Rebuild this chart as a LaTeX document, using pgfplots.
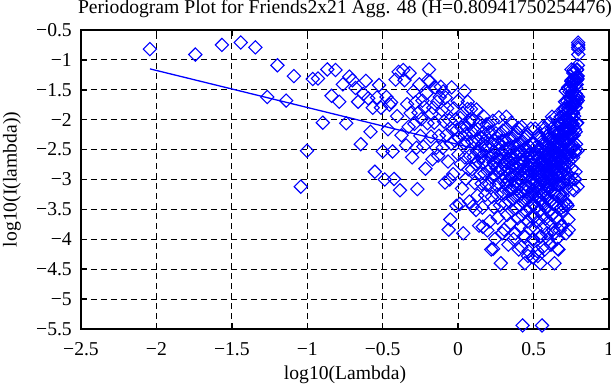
\documentclass[border=0pt]{standalone}
\usepackage{fontspec}
\setmainfont{Liberation Serif}
\usepackage{pgfplots}
\usepackage{pgfplotstable}
\pgfplotsset{compat=1.18}
\pgfplotstableread{
xl xr y
-2.043 0.7974 -0.82
-1.742 0.7967 -0.91
-1.566 0.7961 -0.75
-1.441 0.7955 -0.71
-1.344 0.7949 -0.79
-1.265 0.7942 -1.62
-1.198 0.7936 -1.09
-1.140 0.7930 -1.68
-1.089 0.7923 -1.27
-1.043 0.7917 -3.12
-1.002 0.7911 -2.52
-0.964 0.7904 -1.32
-0.929 0.7898 -1.31
-0.897 0.7891 -2.05
-0.867 0.7885 -1.16
-0.839 0.7879 -1.60
-0.813 0.7872 -1.17
-0.788 0.7866 -1.70
-0.764 0.7859 -1.41
-0.742 0.7853 -2.06
-0.721 0.7846 -1.28
-0.701 0.7840 -1.34
-0.681 0.7833 -1.47
-0.663 0.7827 -1.70
-0.645 0.7820 -2.41
-0.628 0.7814 -1.57
-0.612 0.7807 -1.35
-0.596 0.7801 -1.64
-0.581 0.7794 -2.20
-0.566 0.7788 -1.80
-0.552 0.7781 -2.87
-0.538 0.7775 -1.63
-0.524 0.7768 -1.42
-0.512 0.7762 -1.80
-0.499 0.7755 -2.53
-0.487 0.7748 -3.00
-0.475 0.7742 -1.62
-0.465 0.7735 -2.16
-0.455 0.7727 -1.75
-0.445 0.7720 -1.71
-0.435 0.7713 -2.53
-0.425 0.7706 -2.99
-0.415 0.7698 -1.33
-0.405 0.7691 -1.94
-0.395 0.7684 -1.20
-0.386 0.7677 -3.18
-0.375 0.7669 -2.26
-0.364 0.7661 -1.17
-0.355 0.7655 -1.34
-0.345 0.7647 -2.43
-0.338 0.7642 -1.74
-0.328 0.7635 -2.12
-0.322 0.7630 -1.22
-0.315 0.7625 -1.89
-0.305 0.7618 -2.63
-0.297 0.7612 -1.53
-0.290 0.7607 -2.07
-0.283 0.7602 -1.71
-0.276 0.7597 -2.47
-0.270 0.7591 -3.16
-0.263 0.7584 -1.88
-0.257 0.7578 -1.41
-0.250 0.7571 -2.27
-0.243 0.7564 -1.99
-0.237 0.7558 -1.68
-0.230 0.7551 -2.45
-0.223 0.7543 -1.79
-0.217 0.7537 -2.82
-0.210 0.7530 -1.56
-0.203 0.7523 -2.06
-0.200 0.7520 -1.34
-0.193 0.7511 -1.16
-0.187 0.7503 -1.36
-0.180 0.7494 -2.28
-0.175 0.7488 -1.90
-0.170 0.7482 -2.66
-0.165 0.7475 -1.80
-0.158 0.7466 -2.05
-0.152 0.7459 -1.46
-0.145 0.7450 -2.47
-0.138 0.7441 -1.70
-0.133 0.7434 -2.60
-0.127 0.7427 -2.27
-0.122 0.7420 -1.62
-0.115 0.7411 -1.45
-0.108 0.7402 -1.84
-0.102 0.7395 -2.47
-0.099 0.7390 -1.53
-0.093 0.7380 -2.03
-0.087 0.7370 -3.05
-0.083 0.7364 -1.63
-0.077 0.7354 -2.25
-0.073 0.7347 -1.81
-0.067 0.7337 -2.70
-0.063 0.7331 -3.84
-0.058 0.7322 -2.01
-0.055 0.7317 -3.00
-0.052 0.7312 -3.67
-0.047 0.7304 -2.40
-0.043 0.7297 -1.46
-0.037 0.7287 -2.17
-0.033 0.7281 -2.91
-0.028 0.7272 -1.81
-0.022 0.7262 -2.35
-0.018 0.7256 -2.00
-0.012 0.7246 -3.44
-0.008 0.7239 -2.17
-0.003 0.7231 -1.69
0.002 0.7222 -2.58
0.006 0.7214 -2.30
0.010 0.7206 -3.41
0.014 0.7198 -1.97
0.018 0.7190 -2.74
0.022 0.7182 -2.13
0.026 0.7173 -3.15
0.030 0.7165 -1.89
0.034 0.7157 -3.90
0.038 0.7149 -2.39
0.042 0.7141 -1.52
0.045 0.7135 -2.63
0.048 0.7129 -2.24
0.052 0.7120 -2.99
0.055 0.7113 -2.13
0.058 0.7106 -2.37
0.062 0.7097 -1.82
0.064 0.7092 -1.70
0.068 0.7083 -2.83
0.072 0.7074 -2.05
0.075 0.7067 -3.37
0.078 0.7060 -2.60
0.082 0.7050 -2.00
0.085 0.7043 -1.82
0.088 0.7036 -2.20
0.092 0.7027 -2.83
0.095 0.7020 -2.37
0.098 0.7013 -3.45
0.101 0.7005 -2.01
0.104 0.6997 -2.62
0.107 0.6989 -2.18
0.110 0.6981 -3.06
0.113 0.6973 -2.36
0.116 0.6964 -2.74
0.119 0.6956 -3.51
0.121 0.6951 -1.83
0.124 0.6943 -2.53
0.127 0.6935 -3.27
0.130 0.6926 -2.16
0.133 0.6918 -2.70
0.136 0.6910 -2.34
0.139 0.6902 -3.77
0.141 0.6896 -2.53
0.144 0.6888 -2.05
0.147 0.6880 -2.91
0.150 0.6872 -2.63
0.153 0.6863 -2.30
0.156 0.6853 -3.07
0.159 0.6844 -2.41
0.161 0.6838 -3.47
0.164 0.6828 -3.79
0.166 0.6822 -2.21
0.169 0.6813 -2.71
0.171 0.6806 -1.95
0.174 0.6797 -2.90
0.176 0.6791 -2.51
0.179 0.6782 -3.26
0.181 0.6775 -2.44
0.184 0.6766 -2.68
0.186 0.6760 -2.08
0.189 0.6750 -3.09
0.191 0.6744 -2.31
0.194 0.6735 -3.85
0.196 0.6728 -2.86
0.199 0.6719 -2.21
0.201 0.6712 -2.07
0.204 0.6701 -2.45
0.206 0.6694 -3.08
0.209 0.6683 -2.62
0.211 0.6676 -3.70
0.214 0.6665 -2.21
0.216 0.6657 -2.82
0.219 0.6646 -4.17
0.221 0.6639 -2.41
0.223 0.6632 -3.29
0.226 0.6621 -2.59
0.228 0.6614 -2.97
0.230 0.6606 -2.02
0.232 0.6599 -4.16
0.234 0.6592 -2.72
0.237 0.6581 -3.46
0.239 0.6573 -2.35
0.241 0.6566 -2.92
0.243 0.6559 -2.56
0.246 0.6548 -3.99
0.248 0.6540 -2.71
0.250 0.6533 -2.23
0.252 0.6524 -3.09
0.254 0.6516 -2.81
0.257 0.6503 -2.48
0.259 0.6494 -3.25
0.261 0.6486 -2.62
0.263 0.6477 -3.64
0.266 0.6464 -2.38
0.268 0.6456 -2.88
0.270 0.6447 -1.96
0.272 0.6438 -3.07
0.274 0.6430 -2.68
0.277 0.6417 -3.43
0.279 0.6408 -2.57
0.281 0.6400 -2.83
0.283 0.6391 -4.40
0.285 0.6383 -2.23
0.287 0.6374 -3.24
0.289 0.6365 -2.46
0.291 0.6357 -3.90
0.293 0.6348 -3.01
0.295 0.6340 -2.36
0.297 0.6331 -2.18
0.299 0.6322 -2.56
0.301 0.6313 -3.22
0.303 0.6303 -2.76
0.305 0.6293 -3.84
0.307 0.6282 -2.35
0.309 0.6272 -2.96
0.311 0.6262 -2.52
0.313 0.6252 -3.40
0.315 0.6242 -2.70
0.317 0.6232 -3.08
0.319 0.6221 -1.95
0.321 0.6211 -2.15
0.323 0.6201 -2.85
0.325 0.6191 -3.59
0.327 0.6181 -2.48
0.329 0.6171 -3.02
0.331 0.6161 -2.66
0.333 0.6150 -4.09
0.335 0.6140 -2.81
0.337 0.6130 -2.33
0.338 0.6125 -3.19
0.339 0.6120 -2.91
0.341 0.6110 -2.60
0.343 0.6100 -3.37
0.345 0.6089 -2.71
0.347 0.6079 -3.73
0.349 0.6069 -2.47
0.351 0.6058 -2.97
0.353 0.6046 -2.05
0.355 0.6034 -3.16
0.357 0.6022 -2.77
0.358 0.6016 -3.52
0.359 0.6009 -2.66
0.361 0.5997 -2.92
0.362 0.5991 -2.32
0.364 0.5979 -3.33
0.366 0.5967 -2.55
0.367 0.5961 -4.00
0.369 0.5949 -3.10
0.371 0.5937 -2.45
0.372 0.5931 -2.27
0.374 0.5919 -2.65
0.376 0.5906 -3.28
0.377 0.5900 -2.82
0.379 0.5888 -3.90
0.381 0.5876 -2.43
0.382 0.5870 -3.04
0.384 0.5858 -2.60
0.386 0.5846 -3.48
0.387 0.5840 -2.78
0.389 0.5828 -3.16
0.391 0.5816 -2.21
0.392 0.5809 -2.91
0.394 0.5797 -3.65
0.396 0.5785 -2.54
0.397 0.5779 -3.08
0.398 0.5773 -2.14
0.401 0.5754 -2.74
0.402 0.5746 -4.17
0.404 0.5731 -2.89
0.405 0.5724 -2.41
0.407 0.5709 -3.27
0.408 0.5702 -2.99
0.410 0.5687 -2.66
0.411 0.5680 -3.43
0.413 0.5665 -2.77
0.414 0.5657 -3.79
0.416 0.5643 -2.53
0.417 0.5635 -3.03
0.419 0.5620 -4.13
0.421 0.5606 -2.12
0.422 0.5598 -3.23
0.424 0.5583 -2.84
0.425 0.5576 -3.59
0.427 0.5561 -5.44
0.428 0.5554 -2.73
0.429 0.5546 -2.97
0.431 0.5532 -2.37
0.432 0.5524 -3.38
0.434 0.5509 -2.60
0.435 0.5502 -3.95
0.436 0.5495 -3.15
0.438 0.5480 -2.50
0.439 0.5472 -2.32
0.441 0.5458 -2.71
0.442 0.5450 -4.40
0.443 0.5443 -3.34
0.445 0.5428 -2.88
0.446 0.5421 -3.96
0.447 0.5413 -2.47
0.449 0.5398 -3.08
0.450 0.5391 -2.64
0.451 0.5382 -3.52
0.453 0.5364 -2.28
0.454 0.5355 -2.82
0.455 0.5346 -3.20
0.457 0.5328 -2.25
0.458 0.5319 -2.95
0.461 0.5292 -3.70
0.462 0.5283 -2.59
0.463 0.5274 -4.28
0.464 0.5265 -3.13
0.465 0.5256 -2.77
0.467 0.5238 -4.20
0.468 0.5229 -2.92
0.469 0.5220 -2.44
0.471 0.5202 -3.30
0.472 0.5193 -3.02
0.473 0.5184 -2.69
0.475 0.5166 -3.46
0.476 0.5156 -2.80
0.477 0.5147 -3.82
0.479 0.5129 -2.56
0.481 0.5111 -3.07
0.482 0.5102 -2.15
0.483 0.5093 -3.26
0.485 0.5075 -2.87
0.486 0.5066 -3.62
0.487 0.5057 -2.76
0.488 0.5048 -3.00
0.490 0.5030 -2.40
0.491 0.5021 -3.41
0.492 0.5012 -2.63
0.494 0.4994 -4.00
0.495 0.4985 -3.18
0.497 0.4967 -4.30
}\pdata
\begin{document}
\begin{tikzpicture}[font=\fontsize{19.7}{23}\selectfont]
\begin{axis}[
  at={(0,0)}, anchor=south west,
  width=528bp, height=299bp, scale only axis,
  xmin=-2.5, xmax=1, ymin=-5.5, ymax=-0.5,
  xtick={-2.5,-2,-1.5,-1,-0.5,0,0.5,1},
  xticklabels={−2.5,−2,−1.5,−1,−0.5,0,0.5,1},
  ytick={-5.5,-5,-4.5,-4,-3.5,-3,-2.5,-2,-1.5,-1,-0.5},
  yticklabels={−5.5,−5,−4.5,−4,−3.5,−3,−2.5,−2,−1.5,−1,−0.5},
  tick align=inside, xtick pos=both, ytick pos=both,
  major tick length=6bp,
  tick style={black, line width=1.5bp},
  axis line style={black, line width=1.8bp},
  grid=major,
  major grid style={black, line width=1bp, dash pattern=on 6bp off 4bp},
  xticklabel style={anchor=north, inner sep=0pt, yshift=-13bp},
  yticklabel style={anchor=east, inner sep=0pt, xshift=-9bp},
  title={Periodogram Plot for Friends2x21 Agg. 48 (H=0.80941750254476)},
  title style={at={(axis description cs:0.5,1.0368)}, anchor=base, inner sep=0pt},
  xlabel={log10(Lambda)},
  xlabel style={at={(axis description cs:0.5,-0.1538)}, anchor=center, inner sep=0pt},
  ylabel={log10(I(lambda))},
  ylabel style={at={(axis description cs:-0.1307,0.5)}, anchor=center, inner sep=0pt},
  clip=false,
]
\addplot[only marks, mark=square, mark size=4.7pt, mark options={draw=blue, line width=1.1pt, rotate=45}] table[x=xl, y=y]{\pdata};
\addplot[only marks, mark=square, mark size=4.7pt, mark options={draw=blue, line width=1.1pt, rotate=45}] table[x=xr, y=y]{\pdata};
\addplot[blue, line width=1.3pt] coordinates {(-2.043,-1.15) (0.797,-2.908)};
\end{axis}
\pgfresetboundingbox
\path[use as bounding box] (-81bp,-56bp) rectangle (530bp,329bp);
\end{tikzpicture}
\end{document}
